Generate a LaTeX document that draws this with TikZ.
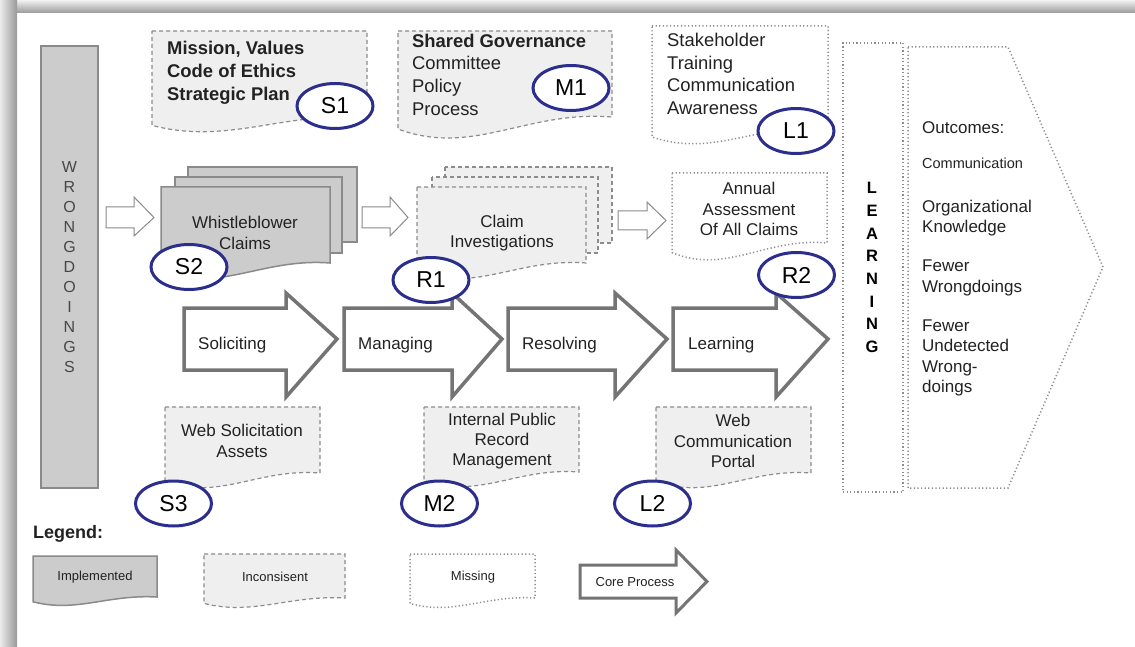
\documentclass[tikz,border=0pt]{standalone}
\usepackage{fontspec}
\setmainfont{Liberation Sans}
\usetikzlibrary{shapes.geometric}
\definecolor{ovalblue}{HTML}{2B2E8C}
\definecolor{implfill}{HTML}{CCCCCC}
\definecolor{implline}{HTML}{8A8A8A}
\definecolor{incfill}{HTML}{EFEFEF}
\definecolor{incline}{HTML}{8C8C8C}
\definecolor{missline}{HTML}{8E8E8E}
\definecolor{coreline}{HTML}{747474}
\definecolor{txt}{HTML}{222222}
% document shape: style, x1, ytop, x2, yright-bottom, amplitude
\newcommand{\docshape}[6]{\path[#1] (#2,#3) -- (#4,#3) -- (#4,#5) .. controls ({#2+0.6*(#4-#2)},{#5-0.35*#6}) and ({#2+0.35*(#4-#2)},{#5+2*#6}) .. (#2,{#5+0.6*#6}) -- cycle;}
% block arrow: style, xleft, xhead, xtip, ybodytop, ybodybottom, yheadtop, yheadbottom
\newcommand{\blockarrow}[8]{\path[#1] (#2,#5) -- (#3,#5) -- (#3,#7) -- (#4,{(#5+#6)/2}) -- (#3,#8) -- (#3,#6) -- (#2,#6) -- cycle;}
\begin{document}
\begin{tikzpicture}[x=1pt,y=-1pt,
  impl/.style={draw=implline, fill=implfill, line width=1.5},
  inc/.style={draw=incline, fill=incfill, line width=1.2, dash pattern=on 4pt off 3pt},
  miss/.style={draw=missline, fill=white, line width=1.5, dash pattern=on 1.2pt off 2.4pt},
  core/.style={draw=coreline, fill=white, line width=3.5},
  hollow/.style={draw=implline, fill=white, line width=1},
  oval/.style={ellipse, draw=ovalblue, line width=3, fill=white, minimum width=76, minimum height=45, inner sep=0, text=black, font=\fontsize{23}{23}\selectfont},
  bigtxt/.style={font=\fontsize{18.4}{22.7}\selectfont, text=txt, inner sep=0, align=left, anchor=west},
  midtxt/.style={font=\fontsize{17}{20.3}\selectfont, text=txt, inner sep=0, align=center},
  leftxt/.style={font=\fontsize{17}{20.3}\selectfont, text=txt, inner sep=0, align=left, anchor=west},
  smalltxt/.style={font=\fontsize{13}{13}\selectfont, text=txt, inner sep=0},
  letter/.style={font=\fontsize{16}{16}\selectfont, text=black!72, inner sep=0}
]
\useasboundingbox (0,0) rectangle (1135,647);
\fill[white] (0,0) rectangle (1135,647);
\shade[top color=black!5, bottom color=black!40] (0,0) rectangle (1135,13);
\shade[left color=black!8, right color=black!40] (0,0) rectangle (17,647);

% WRONGDOINGS bar
\node[draw=implline, fill=implfill, line width=2, minimum width=57, minimum height=442, inner sep=0] (wbar) at (69.5,267) {};
\foreach \c [count=\i from 0] in {W,R,O,N,G,D,O,I,N,G,S}
  \node[letter] (w\i) at (69.5,{167+20*\i}) {\c};

% top row
\docshape{inc}{152}{31}{367}{117}{14}
\node[bigtxt, font=\fontsize{18.4}{23}\selectfont\bfseries] (s1t) at (167,73) {Mission, Values\\Code of Ethics\\Strategic Plan};
\docshape{inc}{398}{31}{612}{117}{20}
\node[bigtxt] (m1t) at (412,74.5) {\textbf{Shared Governance}\\Committee\\Policy\\Process};
\docshape{miss}{652}{26}{828}{128}{15}
\node[bigtxt] (l1t) at (667,74) {Stakeholder\\Training\\Communication\\Awareness};

% middle row
\path[impl] (188,167) rectangle (357,242);
\path[impl] (175,177) rectangle (342,253);
\docshape{impl}{161}{187}{330}{263}{15}
\node[midtxt] (s2t) at (245,233) {Whistleblower\\Claims};
\path[inc] (445,167) rectangle (612,243);
\path[inc] (432,177) rectangle (598,253);
\docshape{inc}{417}{187}{586}{263}{15}
\node[midtxt] (r1t) at (502,233) {Claim\\Investigations};
\docshape{miss}{672}{173}{827}{243}{16}
\node[midtxt] (r2t) at (749,209) {Annual\\Assessment\\Of All Claims};

% small hollow arrows
\blockarrow{hollow}{106}{134}{154}{207}{228}{197}{236}
\blockarrow{hollow}{362}{390}{408}{207}{228}{197}{236}
\blockarrow{hollow}{618}{647}{666}{211}{230}{202}{239}

% core process arrows
\blockarrow{core}{184}{286}{337}{308}{370}{293}{397}
\blockarrow{core}{344}{452}{502}{308}{370}{293}{397}
\blockarrow{core}{508}{615}{667}{308}{370}{293}{397}
\blockarrow{core}{673}{776}{828}{308}{370}{293}{397}
\node[leftxt] (c1) at (198,345) {Soliciting};
\node[leftxt] (c2) at (358,345) {Managing};
\node[leftxt] (c3) at (522,345) {Resolving};
\node[leftxt] (c4) at (688,345) {Learning};

% lower row
\docshape{inc}{165}{407}{320}{473}{14}
\node[midtxt] (s3t) at (242,441) {Web Solicitation\\Assets};
\docshape{inc}{424}{407}{579}{472}{14}
\node[midtxt] (m2t) at (502,441) {Internal Public\\Record\\Management};
\docshape{inc}{656}{407}{811}{473}{14}
\node[midtxt] (l2t) at (733,441) {Web\\Communication\\Portal};

% LEARNING and outcomes
\node[miss, minimum width=60, minimum height=449, inner sep=0] (lbox) at (873,267.5) {};
\foreach \c [count=\i from 0] in {L,E,A,R,N,I,N,G}
  \node[letter, font=\fontsize{16.5}{16.5}\selectfont\bfseries, text=black] (l\i) at (872,{188+22.7*\i}) {\c};
\path[miss] (908,47) -- (1008,47) -- (1103,267) -- (1008,488) -- (908,488) -- cycle;
\node[leftxt] (o1) at (922,128) {Outcomes:};
\node[leftxt, font=\fontsize{14.5}{14.5}\selectfont] (o2) at (922,163) {Communication};
\node[leftxt] (o3) at (922,218) {Organizational\\Knowledge};
\node[leftxt] (o4) at (922,278) {Fewer\\Wrongdoings};
\node[leftxt] (o5) at (922,358) {Fewer\\Undetected\\Wrong-\\doings};

% ovals
\node[oval] (S1) at (335,106) {S1};
\node[oval] (M1) at (571,88) {M1};
\node[oval] (L1) at (796,131) {L1};
\node[oval] (S2) at (189,267) {S2};
\node[oval] (R1) at (431,280) {R1};
\node[oval] (R2) at (796.5,275) {R2};
\node[oval] (S3) at (173.5,503.5) {S3};
\node[oval] (M2) at (439.5,503.5) {M2};
\node[oval] (L2) at (652.5,503.5) {L2};

% legend
\node[anchor=west, inner sep=0, text=txt, font=\fontsize{18}{18}\selectfont\bfseries] (leg) at (33,534) {Legend:};
\docshape{impl}{33}{556}{157}{597}{8}
\node[smalltxt] (lg1) at (95,577) {Implemented};
\docshape{inc}{204}{554}{345}{598}{9}
\node[smalltxt] (lg2) at (275,577) {Inconsisent};
\docshape{miss}{410}{554}{535}{598}{9}
\node[smalltxt] (lg3) at (473,577) {Missing};
\blockarrow{core, line width=3}{580}{676}{707}{565}{598}{550}{613}
\node[smalltxt] (lg4) at (635,582) {Core Process};
\end{tikzpicture}
\end{document}
